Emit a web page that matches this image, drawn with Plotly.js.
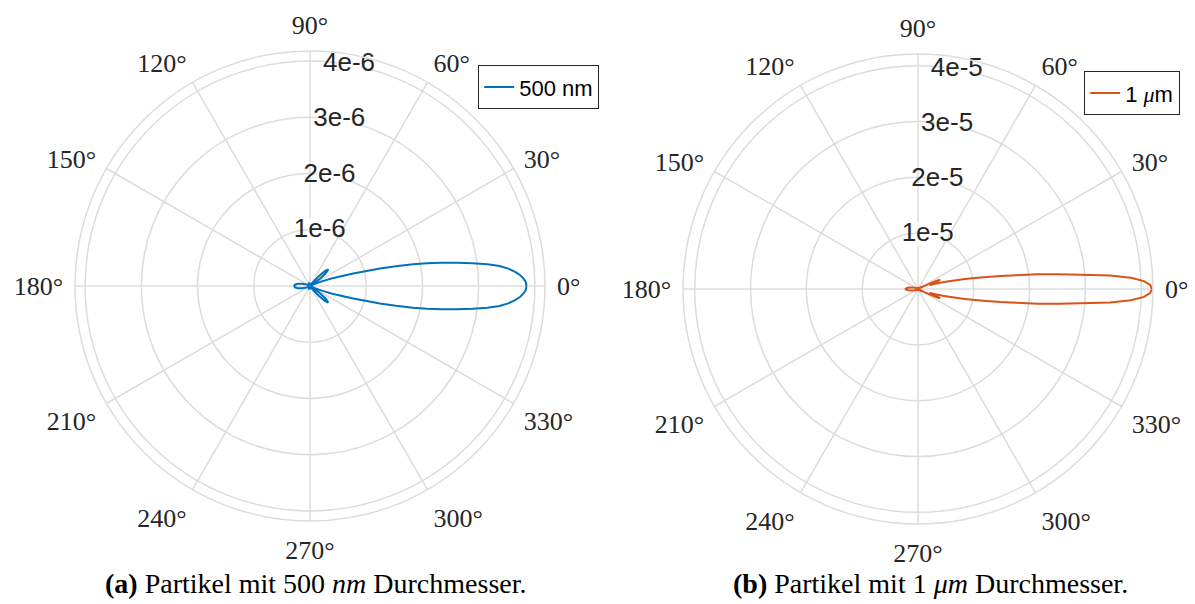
<!DOCTYPE html>
<html>
<head>
<meta charset="utf-8">
<script src="https://cdn.plot.ly/plotly-3.0.1.min.js"></script>
<style>html,body{margin:0;padding:0;background:#fff;}#chart{width:1195px;height:604px;}</style>
</head>
<body>
<div id="chart"></div>
<script>
// ---- data: scattering pattern, 500 nm particle (left) ----
const thetaA = [0,1,2,3,4,5,6,7,8,9,10,11,12,13,14,15,16,17,18,19,20,21,22,23,24,26,28,30,33,36,39,42,45,48,51,54,57,60,70,80,90,100,110,120,130,140,150,155,160,165,170,175,180,
  185,190,195,200,205,210,220,230,240,250,260,270,280,290,300,303,306,309,312,315,318,321,324,327,330,332,334,336,337,338,339,340,341,342,343,344,345,346,347,348,349,350,351,352,353,354,355,356,357,358,359,360];
const rA = [3.85e-6,3.84e-6,3.80e-6,3.74e-6,3.65e-6,3.54e-6,3.39e-6,3.18e-6,2.92e-6,2.64e-6,2.37e-6,2.12e-6,1.87e-6,1.57e-6,1.28e-6,1.02e-6,0.80e-6,0.64e-6,0.52e-6,0.42e-6,0.32e-6,0.24e-6,0.17e-6,0.11e-6,0.06e-6,0.02e-6,0.01e-6,0.03e-6,0.10e-6,0.22e-6,0.36e-6,0.44e-6,0.38e-6,0.24e-6,0.11e-6,0.04e-6,0.02e-6,0.03e-6,0.05e-6,0.04e-6,0.03e-6,0.04e-6,0.05e-6,0.04e-6,0.03e-6,0.02e-6,0.03e-6,0.05e-6,0.09e-6,0.15e-6,0.22e-6,0.27e-6,0.28e-6,
  0.27e-6,0.22e-6,0.15e-6,0.09e-6,0.05e-6,0.03e-6,0.02e-6,0.03e-6,0.04e-6,0.05e-6,0.04e-6,0.03e-6,0.04e-6,0.05e-6,0.03e-6,0.02e-6,0.04e-6,0.11e-6,0.24e-6,0.38e-6,0.44e-6,0.36e-6,0.22e-6,0.10e-6,0.03e-6,0.01e-6,0.02e-6,0.06e-6,0.11e-6,0.17e-6,0.24e-6,0.32e-6,0.42e-6,0.52e-6,0.64e-6,0.80e-6,1.02e-6,1.28e-6,1.57e-6,1.87e-6,2.12e-6,2.37e-6,2.64e-6,2.92e-6,3.18e-6,3.39e-6,3.54e-6,3.65e-6,3.74e-6,3.80e-6,3.84e-6,3.85e-6];

// ---- data: scattering pattern, 1 µm particle (right) ----
const thetaB = [0,1,2,3,4,5,6,7,8,9,10,11,12,13,14,15,16,17,18,19,20,21,22,23,24,25,26,27,30,33,36,45,60,75,90,105,120,135,150,160,165,170,175,180,
  185,190,195,200,210,225,240,255,270,285,300,315,324,327,330,333,334,335,336,337,338,339,340,341,342,343,344,345,346,347,348,349,350,351,352,353,354,355,356,357,358,359,360];
const rB = [4.19e-5,4.16e-5,4.05e-5,3.82e-5,3.45e-5,2.93e-5,2.53e-5,2.16e-5,1.78e-5,1.50e-5,1.25e-5,1.04e-5,0.86e-5,0.70e-5,0.57e-5,0.46e-5,0.37e-5,0.30e-5,0.25e-5,0.22e-5,0.25e-5,0.33e-5,0.41e-5,0.43e-5,0.37e-5,0.24e-5,0.12e-5,0.05e-5,0.03e-5,0.07e-5,0.03e-5,0.02e-5,0.03e-5,0.02e-5,0.02e-5,0.03e-5,0.02e-5,0.02e-5,0.03e-5,0.06e-5,0.10e-5,0.15e-5,0.20e-5,0.23e-5,
  0.20e-5,0.15e-5,0.10e-5,0.06e-5,0.03e-5,0.02e-5,0.02e-5,0.03e-5,0.02e-5,0.02e-5,0.03e-5,0.02e-5,0.03e-5,0.07e-5,0.03e-5,0.05e-5,0.12e-5,0.24e-5,0.37e-5,0.43e-5,0.41e-5,0.33e-5,0.25e-5,0.22e-5,0.25e-5,0.30e-5,0.37e-5,0.46e-5,0.57e-5,0.70e-5,0.86e-5,1.04e-5,1.25e-5,1.50e-5,1.78e-5,2.16e-5,2.53e-5,2.93e-5,3.45e-5,3.82e-5,4.05e-5,4.16e-5,4.19e-5];

// ---- axes / labels ----
const angleTicks = [0,30,60,90,120,150,180,210,240,270,300,330];
const angleLabels = ['0°','30°','60°','90°','120°','150°','180°','210°','240°','270°','300°','330°'];
const rTicksA = [1e-6,2e-6,3e-6,4e-6];
const rLabelsA = ['1e-6','2e-6','3e-6','4e-6'];
const rTicksB = [1e-5,2e-5,3e-5,4e-5];
const rLabelsB = ['1e-5','2e-5','3e-5','4e-5'];
const rAxisAngle = 80;   // direction along which the radial tick labels sit
const rMaxA = 4.18e-6;
const rMaxB = 4.21e-5;
const nameA = '500 nm';
const nameB = '1 <span style="font-family:\'Liberation Serif\';font-style:italic">μ</span>m';
const captionA = '<b>(a)</b> Partikel mit 500 <i>nm</i> Durchmesser.';
const captionB = '<b>(b)</b> Partikel mit 1 <i>μm</i> Durchmesser.';

const GRID = '#dcdcdc';
const TXT = '#262626';
const sans = 'Liberation Sans, Arial, sans-serif';
const serif = 'Liberation Serif, Times New Roman, serif';

function polarLayout(dx, dy, rmax, rticks) {
  return {
    domain: {x: dx, y: dy},
    bgcolor: 'rgba(0,0,0,0)',
    angularaxis: {
      direction: 'counterclockwise', rotation: 0,
      tickmode: 'array', tickvals: angleTicks, ticktext: angleLabels,
      tickfont: {family: serif, size: 26, color: TXT},
      ticks: 'outside', ticklen: 6, tickcolor: 'rgba(0,0,0,0)',
      showgrid: true, gridcolor: GRID, gridwidth: 1.5,
      showline: true, linecolor: GRID, linewidth: 1.5
    },
    radialaxis: {
      range: [0, rmax], tickmode: 'array', tickvals: rticks,
      showticklabels: false, ticks: '', showline: false,
      showgrid: true, gridcolor: GRID, gridwidth: 1.5
    }
  };
}

function labelTrace(sub, rticks, rlabels) {
  return {
    type: 'scatterpolar', subplot: sub, r: rticks, theta: rticks.map(() => rAxisAngle),
    mode: 'markers+text', text: rlabels, textposition: 'middle center',
    textfont: {family: sans, size: 26, color: TXT},
    marker: {symbol: 'square', size: 24, color: 'white'},
    hoverinfo: 'skip', showlegend: false, cliponaxis: false
  };
}

const data = [
  labelTrace('polar', rTicksA, rLabelsA),
  {type: 'scatterpolar', subplot: 'polar', r: rA, theta: thetaA, mode: 'lines',
   name: nameA, line: {color: '#0072BD', width: 2}, legend: 'legend'},
  labelTrace('polar2', rTicksB, rLabelsB),
  {type: 'scatterpolar', subplot: 'polar2', r: rB, theta: thetaB, mode: 'lines',
   name: nameB, line: {color: '#D95319', width: 2}, legend: 'legend2'}
];

const legendBase = {
  bgcolor: 'white', bordercolor: '#262626', borderwidth: 1.2,
  font: {family: sans, size: 22, color: '#000'},
  xanchor: 'left', yanchor: 'middle', itemwidth: 30, tracegroupgap: 0
};

const layout = {
  width: 1195, height: 604,
  margin: {l: 0, r: 0, t: 0, b: 0},
  paper_bgcolor: 'white',
  showlegend: true,
  polar: polarLayout([75/1195, 545/1195], [83/604, 553/604], rMaxA, rTicksA),
  polar2: polarLayout([683/1195, 1153/1195], [80/604, 550/604], rMaxB, rTicksB),
  legend: Object.assign({}, legendBase, {x: 478/1195, y: 1 - 87/604}),
  legend2: Object.assign({}, legendBase, {x: 1084/1195, y: 1 - 93/604}),
  annotations: [
    {text: captionA, xref: 'paper', yref: 'paper', x: 316/1195, y: 1 - 583/604,
     xanchor: 'center', yanchor: 'middle', showarrow: false,
     font: {family: serif, size: 28, color: '#000'}},
    {text: captionB, xref: 'paper', yref: 'paper', x: 930/1195, y: 1 - 583/604,
     xanchor: 'center', yanchor: 'middle', showarrow: false,
     font: {family: serif, size: 28, color: '#000'}}
  ]
};

Plotly.newPlot('chart', data, layout, {staticPlot: true, displayModeBar: false});
</script>
</body>
</html>
